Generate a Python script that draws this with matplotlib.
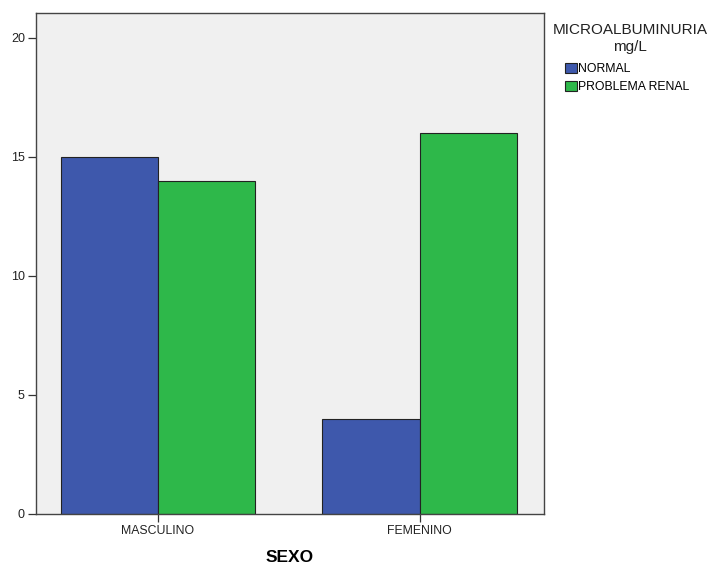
import matplotlib
matplotlib.use("Agg")
import matplotlib.pyplot as plt
import numpy as np
from matplotlib.patches import Patch

categories = ["MASCULINO", "FEMENINO"]
series_names = ["NORMAL", "PROBLEMA RENAL"]
normal = [15, 4]
problema = [14, 16]
yticks = [0, 5, 10, 15, 20]

colors = ["#3E58AC", "#2EB84A"]

plt.rcParams['font.family'] = ['Liberation Sans', 'DejaVu Sans']

fig = plt.figure(figsize=(7.1, 5.66), dpi=100)
ax = fig.add_axes([36/710, 1-514/566, (544-36)/710, (514-13)/566])
ax.set_facecolor("#F0F0F0")

x = np.arange(len(categories))
w = 0.371
ax.bar(x - w/2, normal, width=w, color=colors[0], edgecolor="#222222", linewidth=0.8, zorder=2)
ax.bar(x + w/2, problema, width=w, color=colors[1], edgecolor="#222222", linewidth=0.8, zorder=2)

ax.set_xlim(-0.4665, 1.476)
ax.set_ylim(0, 21.05)
ax.set_xticks(x)
ax.set_xticklabels(categories, fontsize=8.8, color="#222222")
ax.set_yticks(yticks)
ax.set_yticklabels([str(v) for v in yticks], fontsize=9, color="#222222")
ax.tick_params(axis='both', length=6, width=0.9, color="#333333", direction='out', pad=2)
for s in ax.spines.values():
    s.set_color("#444444")
    s.set_linewidth(1.0)

ax.set_xlabel("SEXO", fontsize=12.5, fontweight='bold', va='center')
ax.xaxis.set_label_coords(0.5, (514-558)/501)

fig.text(630/710, 1-30/566, "MICROALBUMINURIA", ha='center', va='center', fontsize=11, color="#222222")
fig.text(630/710, 1-47/566, "mg/L", ha='center', va='center', fontsize=11, color="#222222")

handles = [Patch(facecolor=colors[0], edgecolor="#222222", linewidth=0.8),
           Patch(facecolor=colors[1], edgecolor="#222222", linewidth=0.8)]
fig.legend(handles, series_names, loc='upper left', bbox_to_anchor=(565/710, 1-63/566),
           frameon=False, fontsize=8.8, handlelength=0.95, handleheight=0.9,
           handletextpad=0.15, labelspacing=0.45, borderpad=0, borderaxespad=0)

fig.savefig("out.png", dpi=100)
